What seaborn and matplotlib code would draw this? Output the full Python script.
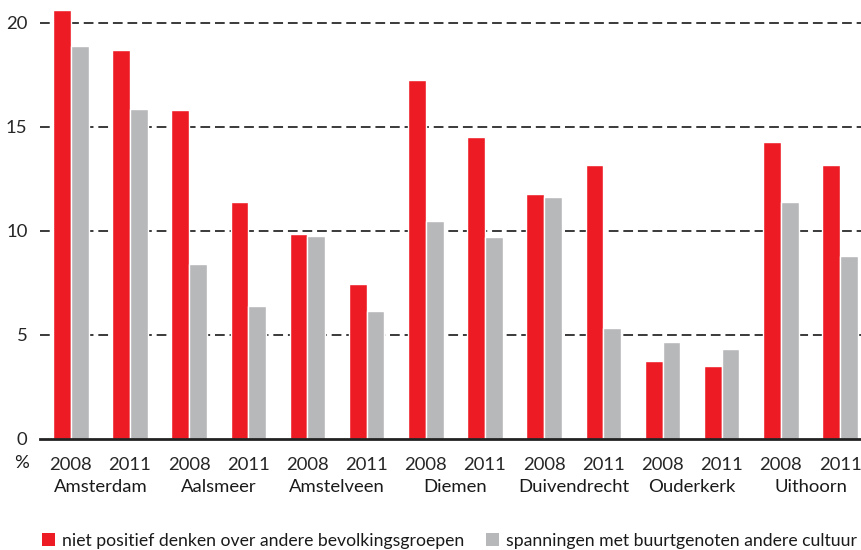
import matplotlib
matplotlib.use("Agg")
import matplotlib.pyplot as plt
import matplotlib.transforms as mtransforms
from matplotlib.patches import Patch
import seaborn as sns
import pandas as pd

# data (percentages)
municipalities = ["Amsterdam", "Aalsmeer", "Amstelveen", "Diemen",
                  "Duivendrecht", "Ouderkerk", "Uithoorn"]
years = ["2008", "2011"]
niet_positief = [20.6, 18.7, 15.8, 11.4, 9.85, 7.45, 17.25, 14.5,
                 11.75, 13.15, 3.75, 3.5, 14.25, 13.15]
spanningen = [18.9, 15.85, 8.4, 6.4, 9.75, 6.15, 10.45, 9.7,
              11.6, 5.3, 4.65, 4.3, 11.4, 8.8]
series_names = ["niet positief denken over andere bevolkingsgroepen",
                "spanningen met buurtgenoten andere cultuur"]
colors = ["#ED1C24", "#B7B8BA"]

categories = [f"{m} {y}" for m in municipalities for y in years]
df = pd.DataFrame({
    "cat": categories * 2,
    "value": niet_positief + spanningen,
    "series": [series_names[0]] * len(categories) + [series_names[1]] * len(categories),
})

sns.set_style("white")
plt.rcParams["font.family"] = ["Lato", "DejaVu Sans"]
plt.rcParams["text.color"] = "#1a1a1a"
fs = 13.3

fig = plt.figure(figsize=(8.62, 5.5), dpi=100)
ax = fig.add_axes([0.0464, 0.2024, 0.9536, 0.7976])

sns.barplot(data=df, x="cat", y="value", hue="series", order=categories,
            hue_order=series_names, palette=colors, width=0.6, gap=0,
            saturation=1, legend=False, ax=ax)

ax.set_ylim(0, 21.09)
ax.set_xlim(-0.52, 13.37)
ax.set_yticks([0, 5, 10, 15, 20])
ax.set_yticklabels(["0", "5", "10", "15", "20"], fontsize=fs)
for y in [5, 10, 15, 20]:
    ax.axhline(y, color="#3a3a3a", lw=1.4, ls=(0, (5, 2.5)), zorder=0)

for s in ["left", "right", "top"]:
    ax.spines[s].set_visible(False)
ax.spines["bottom"].set_color("#222222")
ax.spines["bottom"].set_linewidth(2)
ax.tick_params(axis="both", length=0)
ax.tick_params(axis="y", pad=9)
ax.tick_params(axis="x", pad=13)
ax.set_xticks(range(len(categories)))
ax.set_xticklabels(years * len(municipalities), fontsize=fs)
ax.set_xlabel("")
ax.set_ylabel("")

trans = mtransforms.blended_transform_factory(ax.transData, fig.transFigure)
for i, m in enumerate(municipalities):
    ax.text(2 * i + 0.5, 1 - 487 / 550, m, transform=trans, ha="center",
            va="center", fontsize=fs)
fig.text(22 / 862, 1 - 463 / 550, "%", ha="center", va="center", fontsize=fs)

# two legend entries placed separately, as in the reference
for name, c, x0 in zip(series_names, colors, [42, 486]):
    fig.legend([Patch(facecolor=c, edgecolor="none")], [name],
               loc="center left", bbox_to_anchor=(x0 / 862, 1 - 541 / 550),
               frameon=False, fontsize=12.7, handlelength=0.75,
               handleheight=0.75, handletextpad=0.4, borderaxespad=0,
               borderpad=0)

fig.savefig("out.png", dpi=100)
